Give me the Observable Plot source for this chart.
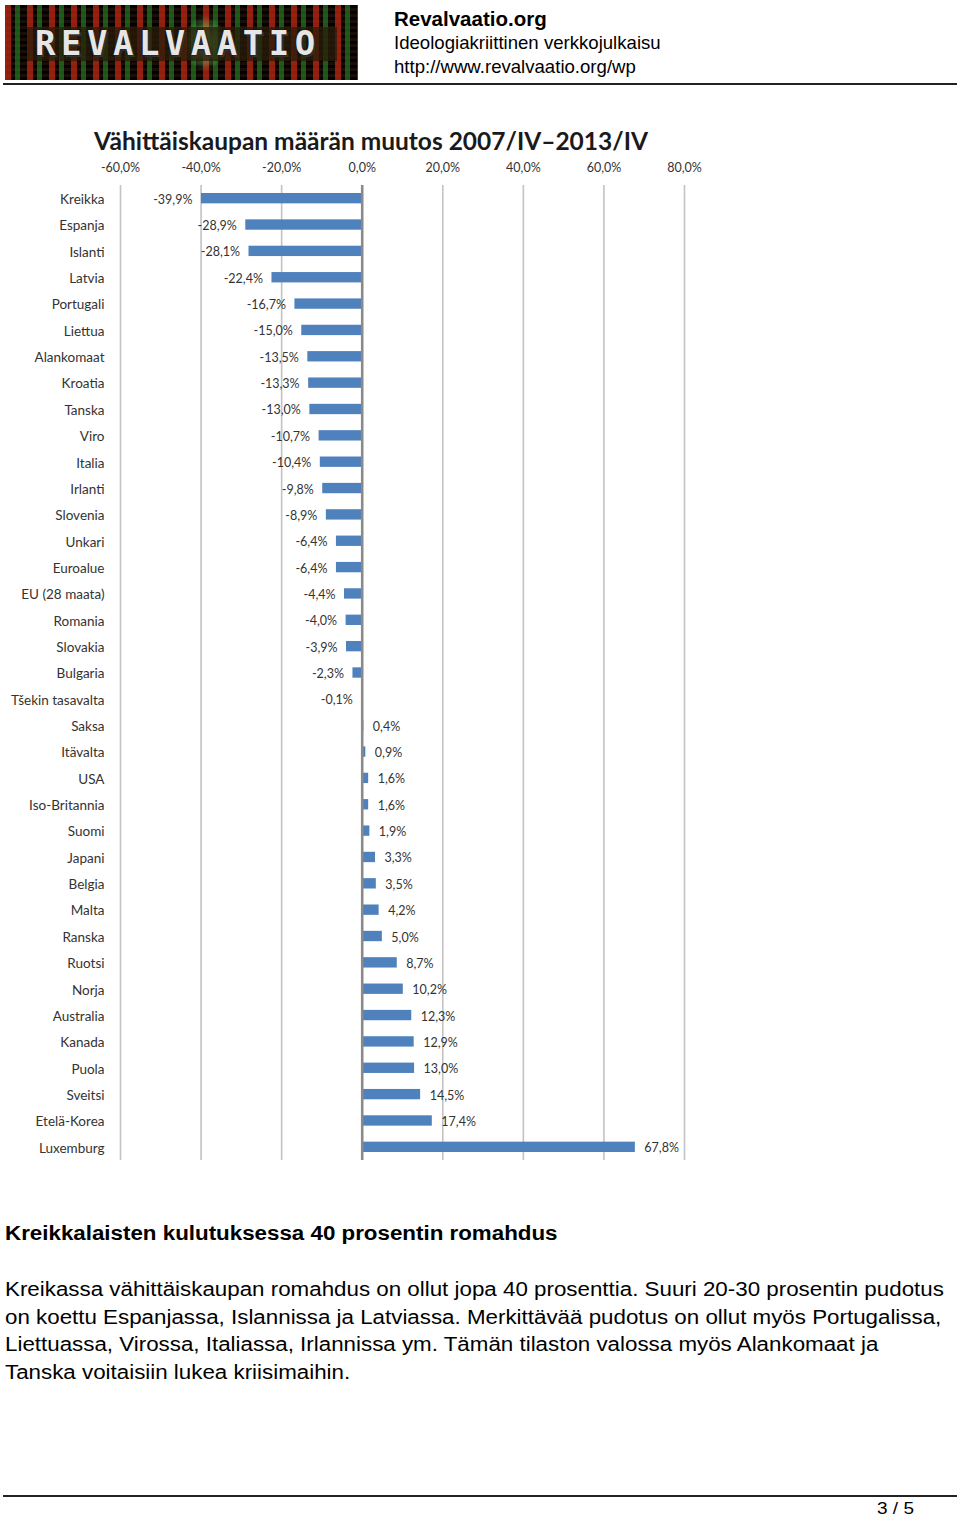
<!DOCTYPE html>
<html>
<head>
<meta charset="utf-8">
<script src="https://cdn.jsdelivr.net/npm/d3@7"></script>
<script src="https://cdn.jsdelivr.net/npm/@observablehq/plot@0.6"></script>
<style>
  html, body { margin: 0; padding: 0; background: #fff; }
  body { width: 960px; height: 1519px; position: relative; overflow: hidden; font-family: "Liberation Sans", Arial, sans-serif; color: #000; }
  .abs { position: absolute; white-space: pre; }
  .wide { transform: scaleX(1.117); transform-origin: 0 0; }
  #logo { left: 5px; top: 5px; width: 353px; height: 75px; background:
      radial-gradient(ellipse 30px 40px at 200px 38px, rgba(120,255,120,0.85), rgba(0,80,0,0) 70%),
      repeating-linear-gradient(90deg, rgba(190,40,20,0.75) 0 6px, rgba(0,0,0,0) 6px 10px, rgba(40,140,40,0.6) 10px 15px, rgba(0,0,0,0) 15px 22px),
      repeating-linear-gradient(0deg, rgba(0,0,0,0.85) 0 3px, rgba(0,0,0,0) 3px 6px),
      #1a0d08; overflow: hidden; }
  #logo .band { position: absolute; left: 22px; top: 22px; width: 310px; height: 34px; background: rgba(40,30,10,0.75); }
  #logo .txt { position: absolute; left: 30px; top: 18px; font-family: "DejaVu Sans Mono", monospace; font-weight: bold; font-size: 34px; letter-spacing: 5.5px; color: #e6e6e6; text-shadow: 0 0 2px #000, 2px 2px 0 #333; }
  #chart { position: absolute; left: 0; top: 150px; }
  #ctitle { left: 0; top: 125px; width: 742px; text-align: center; font-family: Lato, "Open Sans", sans-serif; font-weight: bold; font-size: 24.5px; line-height: 32px; color: #1a1a1a; z-index: 2; }
</style>
</head>
<body>
<div id="logo" class="abs"><div class="band"></div><div class="txt">REVALVAATIO</div></div>
<div class="abs" style="left:394px; top:6px; font-size:20.5px; font-weight:bold; line-height:26px;">Revalvaatio.org</div>
<div class="abs" style="left:394px; top:31px; font-size:18.6px; line-height:24px;">Ideologiakriittinen verkkojulkaisu</div>
<div class="abs" style="left:394px; top:55px; font-size:18.6px; line-height:24px;">http://www.revalvaatio.org/wp</div>
<div class="abs" style="left:3px; top:83px; width:954px; height:2px; background:#222;"></div>

<div id="chart"></div>
<div id="ctitle" class="abs">Vähittäiskaupan määrän muutos 2007/IV–2013/IV</div>

<div class="abs wide" style="left:5px; top:1221px; font-size:20px; font-weight:bold; line-height:24px;">Kreikkalaisten kulutuksessa 40 prosentin romahdus</div>
<div class="abs wide" style="left:5px; top:1276px; font-size:20px; line-height:27.7px;">Kreikassa vähittäiskaupan romahdus on ollut jopa 40 prosenttia. Suuri 20-30 prosentin pudotus
on koettu Espanjassa, Islannissa ja Latviassa. Merkittävää pudotus on ollut myös Portugalissa,
Liettuassa, Virossa, Italiassa, Irlannissa ym. Tämän tilaston valossa myös Alankomaat ja
Tanska voitaisiin lukea kriisimaihin.</div>

<div class="abs" style="left:3px; top:1495px; width:954px; height:2px; background:#222;"></div>
<div class="abs wide" style="left:877px; top:1499px; font-size:17px; line-height:20px;">3 / 5</div>

<script>
const countries = ["Kreikka","Espanja","Islanti","Latvia","Portugali","Liettua","Alankomaat","Kroatia","Tanska","Viro","Italia","Irlanti","Slovenia","Unkari","Euroalue","EU (28 maata)","Romania","Slovakia","Bulgaria","Tšekin tasavalta","Saksa","Itävalta","USA","Iso-Britannia","Suomi","Japani","Belgia","Malta","Ranska","Ruotsi","Norja","Australia","Kanada","Puola","Sveitsi","Etelä-Korea","Luxemburg"];
const changes = [-39.9,-28.9,-28.1,-22.4,-16.7,-15.0,-13.5,-13.3,-13.0,-10.7,-10.4,-9.8,-8.9,-6.4,-6.4,-4.4,-4.0,-3.9,-2.3,-0.1,0.4,0.9,1.6,1.6,1.9,3.3,3.5,4.2,5.0,8.7,10.2,12.3,12.9,13.0,14.5,17.4,67.8];
const xTicks = [-60,-40,-20,0,20,40,60,80];

const data = countries.map((c, i) => ({country: c, value: changes[i]}));
const fmt = v => v.toFixed(1).replace(".", ",") + "%";
const font = "Lato, 'Open Sans', sans-serif";

const chart = Plot.plot({
  width: 720,
  height: 1015,
  marginLeft: 120,
  marginRight: 36,
  marginTop: 35,
  marginBottom: 5,
  style: {fontFamily: font, fontSize: "12.5px", color: "#333", overflow: "visible"},
  x: {domain: [-60, 80], axis: null, label: null},
  y: {domain: countries, padding: 0, round: false, axis: null, label: null},
  marks: [
    Plot.ruleX(xTicks.filter(d => d !== 0), {stroke: "#c3c3c3", strokeWidth: 1.6}),
    Plot.barX(data, {x: "value", y: "country", fill: "#4f81bd", insetTop: 8, insetBottom: 8}),
    Plot.ruleX([0], {stroke: "#8a8a8a", strokeWidth: 2.6}),
    Plot.axisX(xTicks, {anchor: "top", label: null, tickSize: 0, tickPadding: 14, tickFormat: fmt, fontSize: 12.5, fill: "#333"}),
    Plot.axisY({anchor: "left", label: null, tickSize: 0, tickPadding: 16, fontSize: 13.5, fill: "#333", dy: 1}),
    Plot.text(data.filter(d => d.value < 0), {x: "value", y: "country", text: d => fmt(d.value), textAnchor: "end", dx: -9, dy: 1, fill: "#333", fontSize: 12.5}),
    Plot.text(data.filter(d => d.value >= 0), {x: "value", y: "country", text: d => fmt(d.value), textAnchor: "start", dx: 9, dy: 1, fill: "#333", fontSize: 12.5})
  ]
});
document.getElementById("chart").appendChild(chart);
</script>
</body>
</html>
